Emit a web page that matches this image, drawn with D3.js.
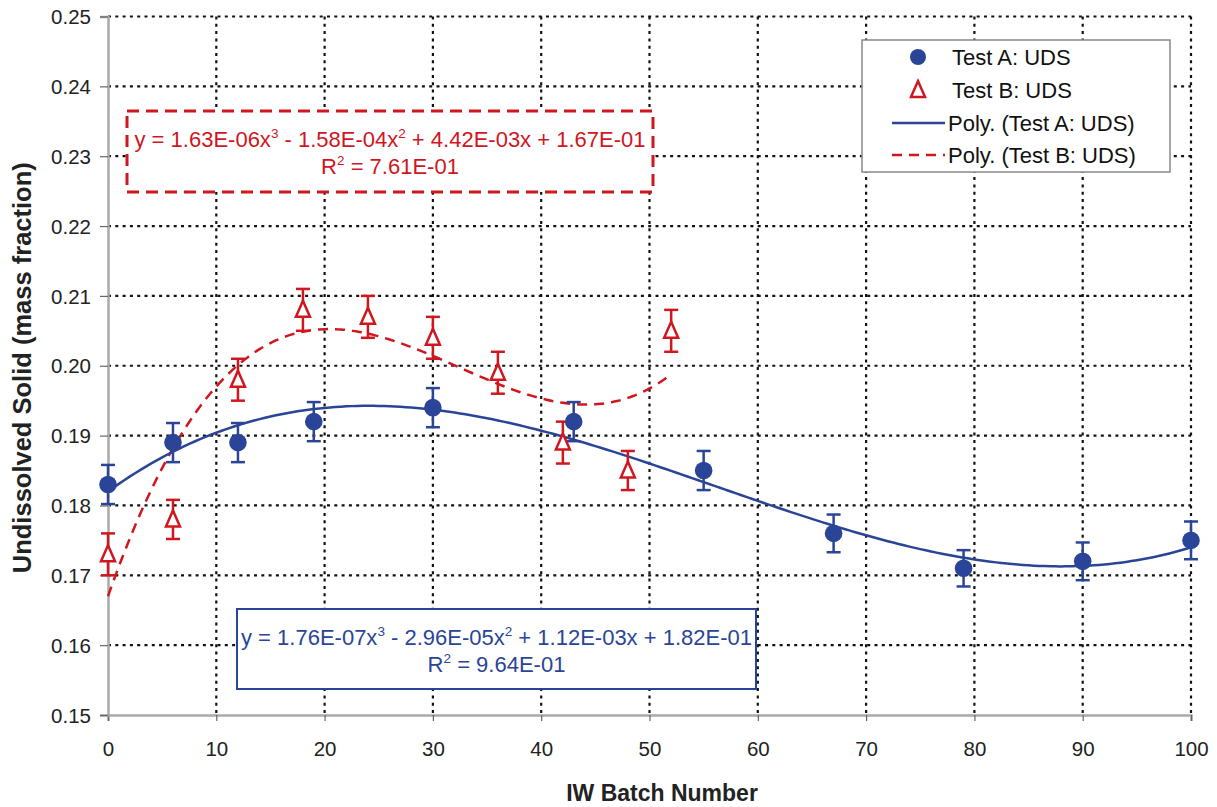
<!DOCTYPE html>
<html><head><meta charset="utf-8">
<script src="https://cdn.jsdelivr.net/npm/d3@7"></script>
<style>body{margin:0;background:#fff;} text{font-family:"Liberation Sans",Arial,sans-serif;}</style>
</head><body><svg id="c" width="1217" height="807"></svg>
<script>
const batchA = [0, 6, 12, 19, 30, 43, 55, 67, 79, 90, 100];
const udsA   = [0.183, 0.189, 0.189, 0.192, 0.194, 0.192, 0.185, 0.176, 0.171, 0.172, 0.175];
const errA   = [0.0028, 0.0028, 0.0028, 0.0028, 0.0028, 0.0028, 0.0028, 0.0027, 0.0026, 0.0027, 0.0027];
const batchB = [0, 6, 12, 18, 24, 30, 36, 42, 48, 52];
const udsB   = [0.173, 0.178, 0.198, 0.208, 0.207, 0.204, 0.199, 0.189, 0.185, 0.205];
const errB   = [0.003, 0.0028, 0.003, 0.003, 0.003, 0.003, 0.003, 0.003, 0.0028, 0.003];
const coefA  = [1.76e-7, -2.96e-5, 1.12e-3, 1.82e-1]; // x^3, x^2, x, c
const coefB  = [1.63e-6, -1.58e-4, 4.42e-3, 1.67e-1];
const xTicks = [0, 10, 20, 30, 40, 50, 60, 70, 80, 90, 100];
const yTicks = [0.15, 0.16, 0.17, 0.18, 0.19, 0.20, 0.21, 0.22, 0.23, 0.24, 0.25];

const blue = "#2a4597", red = "#d0161e";
const svg = d3.select("#c");
const L = 108, R = 1191, T = 16.5, B = 715;
const x = d3.scaleLinear().domain([0, 100]).range([L, R]);
const y = d3.scaleLinear().domain([0.15, 0.25]).range([B, T]);

// grid
const g = svg.append("g");
g.selectAll("line.v").data(xTicks.slice(1)).join("line")
  .attr("x1", d => x(d)).attr("x2", d => x(d)).attr("y1", T).attr("y2", B)
  .attr("stroke", "#111").attr("stroke-width", 2.2).attr("stroke-dasharray", "3,4.3");
g.selectAll("line.h").data(yTicks.slice(1)).join("line")
  .attr("x1", L).attr("x2", R).attr("y1", d => y(d)).attr("y2", d => y(d))
  .attr("stroke", "#111").attr("stroke-width", 2.2).attr("stroke-dasharray", "3,4.3");

// axes
const xa = svg.append("g").attr("transform", `translate(0,${B})`)
  .call(d3.axisBottom(x).tickValues(xTicks).tickSize(6).tickPadding(20).tickFormat(d3.format("d")));
const ya = svg.append("g").attr("transform", `translate(${L},0)`)
  .call(d3.axisLeft(y).tickValues(yTicks).tickSize(8).tickPadding(9).tickFormat(d3.format(".2f")));
[xa, ya].forEach(a => {
  a.select(".domain").attr("stroke", "#aaa").attr("stroke-width", 2.5);
  a.selectAll(".tick line").attr("stroke", "#666").attr("stroke-width", 1.2);
  a.selectAll(".tick text").attr("font-size", 20.5).attr("fill", "#222")
   .attr("font-family", "Liberation Sans, Arial, sans-serif");
});
ya.selectAll(".tick text").attr("dy", "0.35em");

// titles
svg.append("text").attr("x", 662).attr("y", 801).attr("text-anchor", "middle")
  .attr("font-size", 23).attr("font-weight", "bold").attr("fill", "#222").text("IW Batch Number");
svg.append("text").attr("transform", `translate(31,${(T + B) / 2 + 2}) rotate(-90)`).attr("text-anchor", "middle")
  .attr("font-size", 25.5).attr("font-weight", "bold").attr("fill", "#222").text("Undissolved Solid (mass fraction)");

// trendlines
const poly = (c, t) => c[0] * t * t * t + c[1] * t * t + c[2] * t + c[3];
const line = d3.line().x(d => x(d[0])).y(d => y(d[1])).curve(d3.curveMonotoneX);
const tsA = d3.range(0, 100.01, 0.5).map(t => [t, poly(coefA, t)]);
const tsB = d3.range(0, 52.01, 0.5).map(t => [t, poly(coefB, t)]);
svg.append("path").attr("d", line(tsB)).attr("fill", "none").attr("stroke", red)
  .attr("stroke-width", 2.5).attr("stroke-dasharray", "10,7");
svg.append("path").attr("d", line(tsA)).attr("fill", "none").attr("stroke", blue).attr("stroke-width", 2.5);

// error bars
function errBars(xs, ys, es, col) {
  const eg = svg.append("g").attr("stroke", col).attr("stroke-width", 2.5).attr("fill", "none");
  xs.forEach((xv, i) => {
    const cx = x(xv), y1 = y(ys[i] + es[i]), y2 = y(ys[i] - es[i]);
    eg.append("line").attr("x1", cx).attr("x2", cx).attr("y1", y1).attr("y2", y2);
    eg.append("line").attr("x1", cx - 7).attr("x2", cx + 7).attr("y1", y1).attr("y2", y1);
    eg.append("line").attr("x1", cx - 7).attr("x2", cx + 7).attr("y1", y2).attr("y2", y2);
  });
}
errBars(batchB, udsB, errB, red);
errBars(batchA, udsA, errA, blue);

const triPath = (cx, cy) => `M${cx},${cy - 9}L${cx + 7},${cy + 7}L${cx - 7},${cy + 7}Z`;
svg.append("g").selectAll("path").data(batchB).join("path")
  .attr("d", (d, i) => triPath(x(d), y(udsB[i])))
  .attr("fill", "#fff").attr("stroke", red).attr("stroke-width", 2.5);
svg.append("g").selectAll("circle").data(batchA).join("circle")
  .attr("cx", d => x(d)).attr("cy", (d, i) => y(udsA[i])).attr("r", 8.8).attr("fill", blue);

// equation boxes
function eqBox(bx, by, bw, bh, col, dashed, c, r2) {
  svg.append("rect").attr("x", bx).attr("y", by).attr("width", bw).attr("height", bh)
    .attr("fill", "#fff").attr("stroke", col).attr("stroke-width", dashed ? 3 : 2)
    .attr("stroke-dasharray", dashed ? "12,7" : null);
  const cx = bx + bw / 2;
  const fmt = v => v.toExponential(2).replace(/e([+-])(\d)$/, "E$10$2").replace(/e([+-])(\d\d)$/, "E$1$2");
  const fs = 22, ss = 13.5;
  const t1 = svg.append("text").attr("x", cx).attr("y", by + 36).attr("text-anchor", "middle")
    .attr("font-size", fs).attr("fill", col);
  t1.append("tspan").text(`y = ${fmt(c[0])}x`);
  t1.append("tspan").attr("dy", -9).attr("font-size", ss).text("3");
  t1.append("tspan").attr("dy", 9).text(` ${c[1] < 0 ? "-" : "+"} ${fmt(Math.abs(c[1]))}x`);
  t1.append("tspan").attr("dy", -9).attr("font-size", ss).text("2");
  t1.append("tspan").attr("dy", 9).text(` ${c[2] < 0 ? "-" : "+"} ${fmt(Math.abs(c[2]))}x ${c[3] < 0 ? "-" : "+"} ${fmt(Math.abs(c[3]))}`);
  const t2 = svg.append("text").attr("x", cx).attr("y", by + 63).attr("text-anchor", "middle")
    .attr("font-size", fs).attr("fill", col);
  t2.append("tspan").text("R");
  t2.append("tspan").attr("dy", -9).attr("font-size", ss).text("2");
  t2.append("tspan").attr("dy", 9).text(` = ${fmt(r2)}`);
}
eqBox(127, 111, 526, 81, red, true, coefB, 0.761);
eqBox(237, 609, 519, 80, blue, false, coefA, 0.964);

// legend
const lg = svg.append("g");
lg.append("rect").attr("x", 862).attr("y", 40).attr("width", 308).attr("height", 132)
  .attr("fill", "#fff").attr("stroke", "#888").attr("stroke-width", 1.5);
const legItems = ["Test A: UDS", "Test B: UDS", "Poly. (Test A: UDS)", "Poly. (Test B: UDS)"];
const ly = [57, 90, 123, 155];
lg.append("circle").attr("cx", 918).attr("cy", ly[0]).attr("r", 8).attr("fill", blue);
lg.append("path").attr("d", triPath(918, ly[1])).attr("fill", "#fff").attr("stroke", red).attr("stroke-width", 2.5);
lg.append("line").attr("x1", 892).attr("x2", 945).attr("y1", ly[2]).attr("y2", ly[2]).attr("stroke", blue).attr("stroke-width", 2.5);
lg.append("line").attr("x1", 892).attr("x2", 945).attr("y1", ly[3]).attr("y2", ly[3]).attr("stroke", red).attr("stroke-width", 2.5).attr("stroke-dasharray", "10,7");
legItems.forEach((t, i) => {
  lg.append("text").attr("x", i < 2 ? 952 : 948).attr("y", ly[i] + 7.5).attr("font-size", 22).attr("fill", "#111").text(t);
});
</script></body></html>
